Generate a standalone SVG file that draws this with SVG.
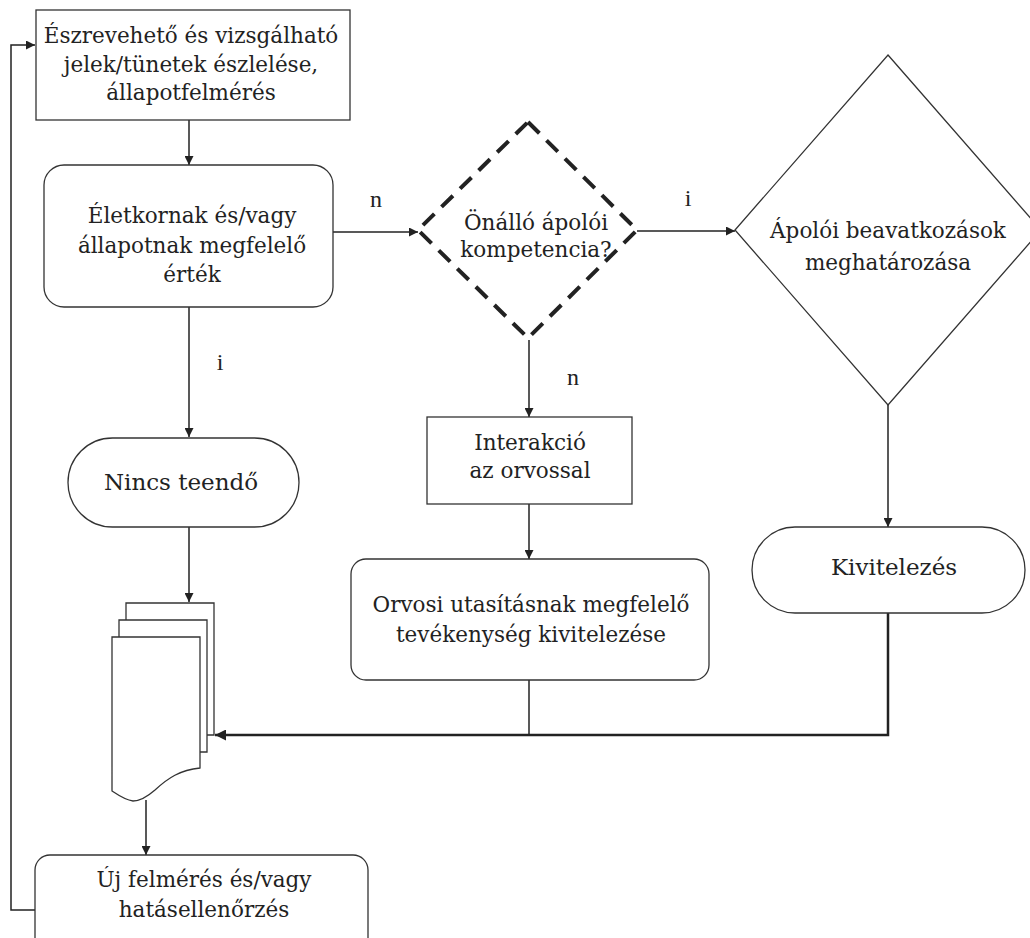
<svg xmlns="http://www.w3.org/2000/svg" width="1030" height="938" viewBox="0 0 1030 938">
<style>
.n{fill:#fff;stroke:#333;stroke-width:1.3}
.t{font-family:"DejaVu Serif",serif;font-size:21.5px;fill:#222;text-anchor:middle}
.b{font-size:23px}
.l{font-family:"Liberation Serif",serif;font-size:24px;fill:#222;text-anchor:middle}
.c{fill:none;stroke:#222;stroke-width:1.5}
.ck{fill:none;stroke:#222;stroke-width:2.5}
</style>
<defs>
<marker id="a" viewBox="0 0 10 10" refX="10" refY="5" markerWidth="10" markerHeight="9" markerUnits="userSpaceOnUse" orient="auto"><path d="M0,0 L10,5 L0,10 Z" fill="#222"/></marker>
<marker id="b" viewBox="0 0 10 10" refX="10" refY="5" markerWidth="12" markerHeight="11" markerUnits="userSpaceOnUse" orient="auto"><path d="M0,0 L10,5 L0,10 Z" fill="#222"/></marker>
</defs>
<rect width="1030" height="938" fill="#fff"/>
<g id="connectors">
<path class="c" d="M189,120 V165" marker-end="url(#a)"/>
<path class="c" d="M333,232 H418" marker-end="url(#a)"/>
<path class="c" d="M637,231 H735" marker-end="url(#a)"/>
<path class="c" d="M189,307 V437" marker-end="url(#a)"/>
<path class="c" d="M189,527 V602" marker-end="url(#a)"/>
<path class="c" d="M529,340 V417" marker-end="url(#a)"/>
<path class="c" d="M529,504 V559" marker-end="url(#a)"/>
<path class="c" d="M888,405 V527" marker-end="url(#a)"/>
<path class="c" d="M529,680 V735"/>
<path class="ck" d="M888,613 V735 H215" marker-end="url(#b)"/>
<path class="c" d="M146,800 V855" marker-end="url(#a)"/>
<path class="c" d="M35,910 H11 V45 H35" marker-end="url(#a)"/>
<text class="l" x="376" y="207">n</text>
<text class="l" x="688" y="206">i</text>
<text class="l" x="220" y="370">i</text>
<text class="l" x="573" y="385">n</text>
</g>
<g id="n1">
<rect class="n" x="36" y="10" width="314" height="110"/>
<text class="t" x="191" y="43">Észrevehető és vizsgálható</text>
<text class="t" x="191" y="72">jelek/tünetek észlelése,</text>
<text class="t" x="191" y="100">állapotfelmérés</text>
</g>
<g id="n2">
<rect class="n" x="44" y="165" width="289" height="142" rx="20"/>
<text class="t" x="192" y="223">Életkornak és/vagy</text>
<text class="t" x="192" y="253">állapotnak megfelelő</text>
<text class="t" x="192" y="282">érték</text>
</g>
<g id="n3">
<path d="M528,122 L637,230 L528,338 L418,230 Z" fill="#fff" stroke="#222" stroke-width="4" stroke-dasharray="16,10"/>
<text class="t" x="536" y="230">Önálló ápolói</text>
<text class="t" x="536" y="257">kompetencia?</text>
</g>
<g id="n4">
<path class="n" d="M888,55 L1041,230 L888,405 L735,230 Z"/>
<text class="t" x="888" y="238">Ápolói beavatkozások</text>
<text class="t" x="888" y="270">meghatározása</text>
</g>
<g id="n5">
<rect class="n" x="68" y="438" width="231" height="89" rx="44.5"/>
<text class="t b" x="181" y="490">Nincs teendő</text>
</g>
<g id="n6">
<rect class="n" x="427" y="417" width="205" height="87"/>
<text class="t" x="530" y="450">Interakció</text>
<text class="t" x="530" y="478">az orvossal</text>
</g>
<g id="n7">
<rect class="n" x="351" y="559" width="358" height="121" rx="15"/>
<text class="t" x="531" y="612">Orvosi utasításnak megfelelő</text>
<text class="t" x="531" y="642">tevékenység kivitelezése</text>
</g>
<g id="n8">
<rect class="n" x="752" y="527" width="273" height="86" rx="43"/>
<text class="t b" x="894" y="575">Kivitelezés</text>
</g>
<g id="n9">
<path class="n" d="M126,620 V603 H214 V735 H207"/>
<path class="n" d="M119,637 V620 H207 V752 H200"/>
<path class="n" d="M112,637 H200 V768 C180,770 168,778 155,790 C147,797 140,801 133,801 C125,800 118,795 112,791 Z"/>
</g>
<g id="n10">
<rect class="n" x="35" y="855" width="333" height="110" rx="15"/>
<text class="t" x="204" y="887">Új felmérés és/vagy</text>
<text class="t" x="204" y="917">hatásellenőrzés</text>
</g>
</svg>
